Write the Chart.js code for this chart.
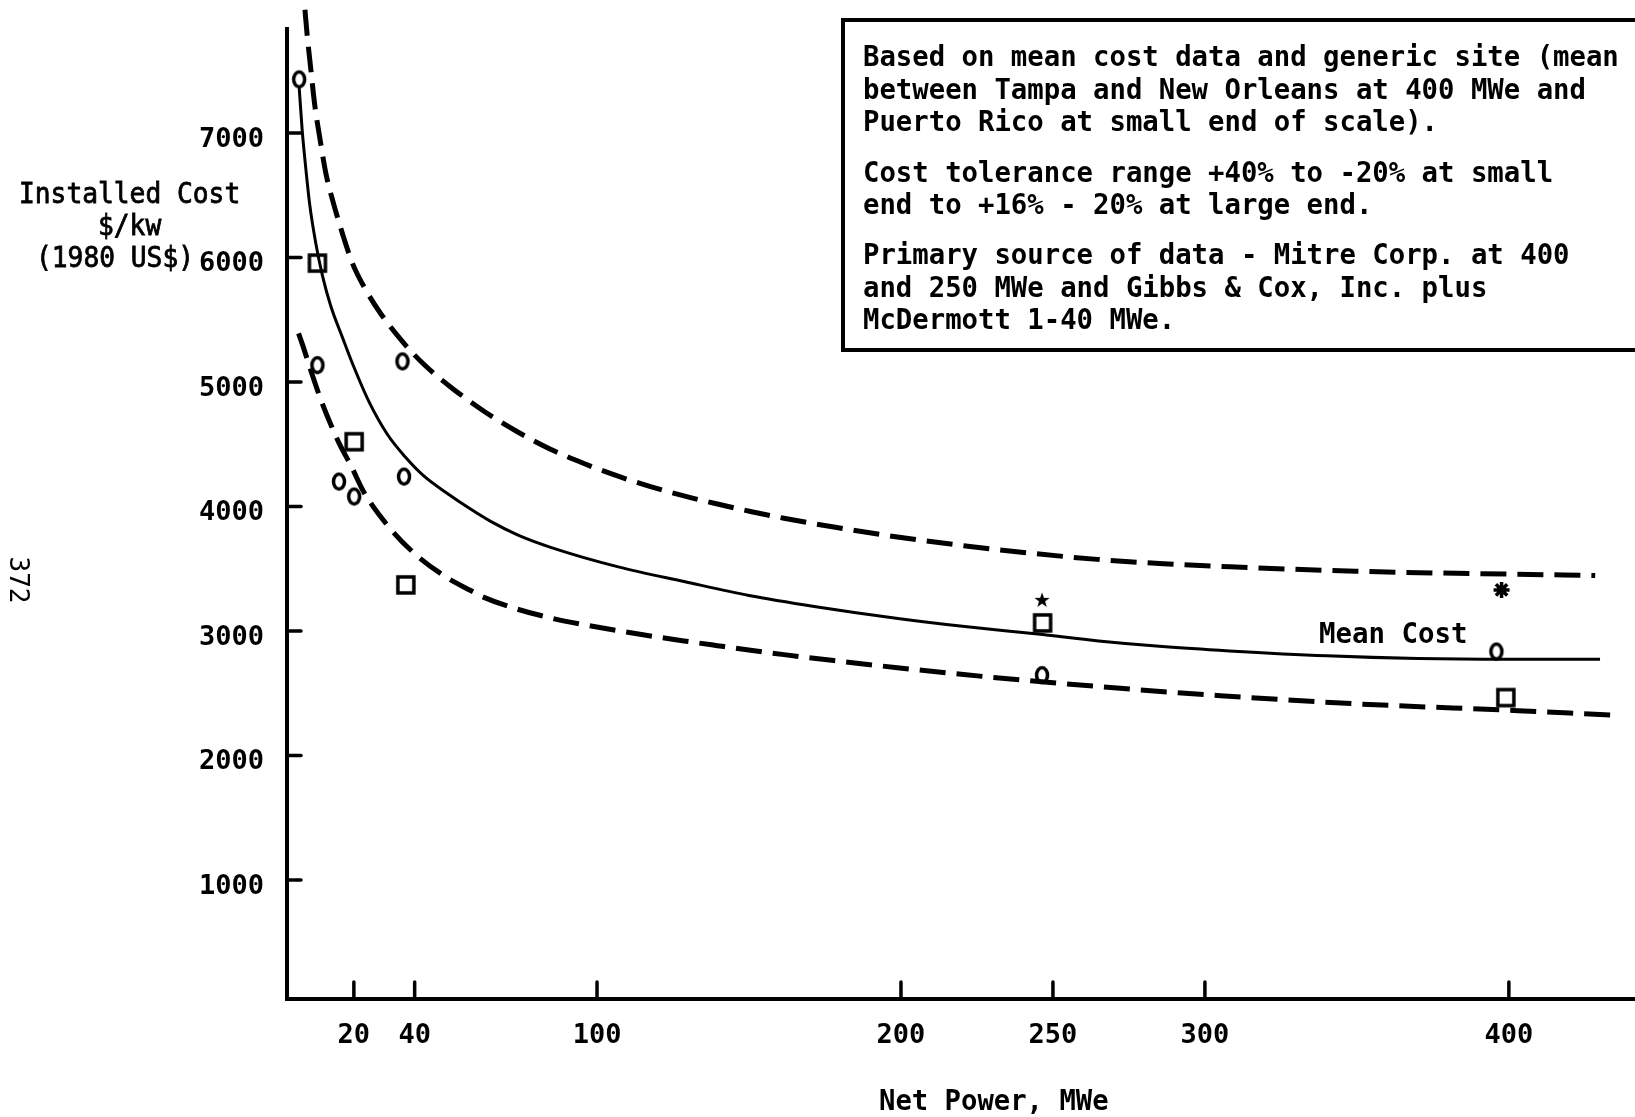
<!DOCTYPE html>
<html>
<head>
<meta charset="utf-8">
<script src="https://cdn.jsdelivr.net/npm/chart.js@4.4.1/dist/chart.umd.min.js"></script>
<style>
  html, body { margin: 0; padding: 0; background: #fff; }
  canvas { display: block; }
</style>
</head>
<body>
<canvas id="costChart" width="1635" height="1117"></canvas>
<script>
// Axis ticks
const xTicks = [20, 40, 100, 200, 250, 300, 400];
const yTicks = [1000, 2000, 3000, 4000, 5000, 6000, 7000];

// Mean cost curve (solid)
const meanX = [2, 3, 4, 5.5, 7.5, 9.7, 12.4, 16.2, 19.5, 25, 31, 37, 43, 51, 58, 65, 74, 85, 107, 129, 150, 172, 199, 221, 245, 265, 286, 308, 340, 370, 400, 430];
const meanY = [7370, 7020, 6760, 6420, 6110, 5850, 5610, 5360, 5150, 4840, 4580, 4395, 4245, 4100, 3985, 3880, 3770, 3670, 3515, 3395, 3285, 3195, 3100, 3035, 2975, 2920, 2875, 2840, 2800, 2778, 2772, 2772];

// Upper tolerance curve (dashed)
const upperX = [3.9, 4.7, 5.8, 7.1, 8.9, 10.8, 13, 16.2, 19.5, 23.9, 28.8, 36.5, 43.1, 51.8, 62.8, 73.8, 84.7, 95.7, 106.7, 117.6, 128.6, 139.6, 150.5, 161.5, 177.9, 198.8, 220.6, 242.6, 264.5, 286.4, 308.3, 349.6, 428.4];
const upperY = [7990, 7770, 7520, 7230, 6945, 6675, 6460, 6195, 5955, 5740, 5550, 5310, 5140, 4960, 4765, 4600, 4460, 4345, 4245, 4160, 4085, 4020, 3960, 3905, 3835, 3755, 3685, 3625, 3575, 3540, 3515, 3480, 3445];

// Lower tolerance curve (dashed)
const lowerX = [1.8, 3.1, 6, 9.1, 12.2, 15.5, 19, 23.3, 31, 39.8, 50.2, 58.4, 62.8, 73.8, 84.7, 95.7, 106.7, 117.6, 128.6, 139.6, 150.5, 161.5, 177.9, 198.8, 220.6, 242.6, 264.5, 286.4, 305.1, 349.6, 403, 433.6];
const lowerY = [5390, 5300, 5080, 4860, 4670, 4490, 4330, 4115, 3850, 3625, 3435, 3325, 3270, 3175, 3105, 3050, 3003, 2960, 2920, 2882, 2845, 2810, 2762, 2705, 2650, 2600, 2555, 2512, 2480, 2415, 2360, 2325];

// Data points
const circleX = [2, 36, 8, 15.1, 20.1, 36.5, 246.4, 395.9];
const circleY = [7430, 5165, 5135, 4200, 4080, 4240, 2645, 2835];
const squareX = [8, 20.1, 37.1, 246.6, 399];
const squareY = [5955, 4520, 3370, 3065, 2465];
const starX = [246.4, 397.6];
const starY = [3250, 3330];

// Text
const yTitleLines = ['Installed Cost', '$/kw', '(1980 US$)'];
const xTitle = 'Net Power, MWe';
const curveLabel = 'Mean Cost';
const noteLines = [
    'Based on mean cost data and generic site (mean',
    'between Tampa and New Orleans at 400 MWe and',
    'Puerto Rico at small end of scale).',
    'Cost tolerance range +40% to -20% at small',
    'end to +16% - 20% at large end.',
    'Primary source of data - Mitre Corp. at 400',
    'and 250 MWe and Gibbs & Cox, Inc. plus',
    'McDermott 1-40 MWe.'
];
const pageNumber = '372';

const MONO = '"DejaVu Sans Mono", "Liberation Mono", monospace';

function toPoints (xs, ys) { // zip x/y arrays
    return xs.map((x, i) => ({ x: x, y: ys[i] }));
}

// Marker Images
function ovalMarker () {
    const c = document.createElement('canvas');
    c.width = 20; c.height = 24;
    const g = c.getContext('2d');
    g.lineWidth = 3.5;
    g.strokeStyle = '#000';
    g.beginPath();
    g.ellipse(10, 12, 5.5, 7.5, 0, 0, 2 * Math.PI);
    g.stroke();
    return c;
}

function squareMarker () {
    const c = document.createElement('canvas');
    c.width = 22; c.height = 22;
    const g = c.getContext('2d');
    g.lineWidth = 3.5;
    g.strokeStyle = '#000';
    g.strokeRect(3, 3, 16, 16);
    return c;
}

function solidStarMarker () { // five-point filled star
    const c = document.createElement('canvas');
    c.width = 18; c.height = 18;
    const g = c.getContext('2d');
    g.fillStyle = '#000';
    g.beginPath();
    for (let i = 0; i < 10; i++) {
        const r = i % 2 ? 3.2 : 8;
        const a = -Math.PI / 2 + i * Math.PI / 5;
        g.lineTo(9 + r * Math.cos(a), 9.5 + r * Math.sin(a));
    }
    g.closePath();
    g.fill();
    return c;
}

// Mono text helper (squeezed to a fixed pitch)
function monoText (ctx, text, x, yMid, size, weight, pitch, stroke) {
    ctx.save();
    ctx.font = `${weight} ${size}px ${MONO}`;
    const sx = pitch / ctx.measureText('M').width;
    ctx.fillStyle = '#000';
    ctx.strokeStyle = '#000';
    ctx.textBaseline = 'alphabetic';
    ctx.textAlign = 'left';
    ctx.translate(x, yMid + 0.729 * size / 2);
    ctx.scale(sx, 1);
    ctx.fillText(text, 0, 0);
    if (stroke) {
        ctx.lineWidth = stroke;
        ctx.strokeText(text, 0, 0);
    }
    ctx.restore();
}

// Drop the label padding Chart.js reserves around the axes
function fixAxis (s, size) {
    if (s.isHorizontal()) s.height = size; else s.width = size;
    s.paddingTop = 0;
    s.paddingBottom = 0;
    s.paddingLeft = 0;
    s.paddingRight = 0;
}

// Inward ticks + annotations
const decorPlugin = {
    id: 'decor',
    afterDraw (chart) {
        const ctx = chart.ctx;
        const xs = chart.scales.x;
        const ys = chart.scales.y;
        const area = chart.chartArea;

        ctx.save();
        ctx.strokeStyle = '#000';
        ctx.lineWidth = 3.5;
        ctx.lineCap = 'round';
        xTicks.forEach(v => {
            const px = xs.getPixelForValue(v);
            ctx.beginPath();
            ctx.moveTo(px, area.bottom);
            ctx.lineTo(px, area.bottom - 17);
            ctx.stroke();
        });
        yTicks.forEach(v => {
            const py = ys.getPixelForValue(v);
            ctx.beginPath();
            ctx.moveTo(area.left, py);
            ctx.lineTo(area.left + 14, py);
            ctx.stroke();
        });
        ctx.restore();

        // Y Title
        monoText(ctx, yTitleLines[0], 19, 193, 28, 'normal', 15.8, 0.8);
        monoText(ctx, yTitleLines[1], 98, 225, 28, 'normal', 15.8, 0.8);
        monoText(ctx, yTitleLines[2], 36, 257, 28, 'normal', 15.8, 0.8);

        // X Title
        monoText(ctx, xTitle, 879, 1100, 28, 'bold', 16.4);

        // Curve Label
        monoText(ctx, curveLabel, 1319, 633, 28, 'bold', 16.5);

        // Note Box
        ctx.save();
        ctx.strokeStyle = '#000';
        ctx.lineWidth = 4;
        ctx.strokeRect(843, 20, 900, 330);
        ctx.restore();
        const noteY = [55.5, 88, 120.5, 171.3, 203, 253.8, 286.4, 318.4];
        noteLines.forEach((line, i) => {
            monoText(ctx, line, 863, noteY[i], 29, 'bold', 16.43);
        });

        // Page Number
        ctx.save();
        ctx.font = `normal 26px ${MONO}`;
        ctx.fillStyle = '#000';
        ctx.translate(17, 580);
        ctx.rotate(Math.PI / 2);
        ctx.textAlign = 'center';
        ctx.textBaseline = 'middle';
        ctx.fillText(pageNumber, 0, 0);
        ctx.restore();
    }
};

// Chart Setup
const lineStyle = {
    showLine: true,
    pointRadius: 0,
    borderColor: '#000',
    fill: false,
    cubicInterpolationMode: 'monotone'
};

const ctx = document.getElementById('costChart').getContext('2d');
const costChart = new Chart(ctx, {
    type: 'scatter',
    data: {
        datasets: [
            { ...lineStyle, label: 'Mean Cost', data: toPoints(meanX, meanY), borderWidth: 3 },
            { ...lineStyle, label: 'Upper', data: toPoints(upperX, upperY), borderWidth: 5, borderDash: [26, 11], clip: false },
            { ...lineStyle, label: 'Lower', data: toPoints(lowerX, lowerY), borderWidth: 5, borderDash: [26, 11] },
            { label: 'Circles', data: toPoints(circleX, circleY), pointStyle: ovalMarker(), pointRadius: 6 },
            { label: 'Squares', data: toPoints(squareX, squareY), pointStyle: squareMarker(), pointRadius: 6 },
            { label: 'Stars', data: toPoints(starX, starY), pointStyle: [solidStarMarker(), 'star'], pointRadius: 8, borderWidth: 3.5, borderColor: '#000' }
        ]
    },
    options: {
        responsive: false,
        animation: false,
        devicePixelRatio: 1,
        layout: { autoPadding: false, padding: { top: 29, right: 0, bottom: 0, left: 0 } },
        plugins: {
            legend: { display: false },
            tooltip: { enabled: false }
        },
        scales: {
            x: {
                type: 'linear',
                min: -2,
                max: 441.5,
                afterBuildTicks: s => { s.ticks = xTicks.map(v => ({ value: v })); },
                afterFit: s => fixAxis(s, 118),
                grid: { display: false, drawTicks: false },
                border: { display: true, color: '#000', width: 4 },
                ticks: {
                    color: '#000',
                    padding: 21,
                    autoSkip: false,
                    maxRotation: 0,
                    callback: v => String(v),
                    font: { family: MONO, size: 27, weight: 'bold' }
                }
            },
            y: {
                type: 'linear',
                min: 44,
                max: 7835,
                afterBuildTicks: s => { s.ticks = yTicks.map(v => ({ value: v })); },
                afterFit: s => fixAxis(s, 287),
                grid: { display: false, drawTicks: false },
                border: { display: true, color: '#000', width: 4 },
                ticks: {
                    color: '#000',
                    padding: 23,
                    labelOffset: 7,
                    callback: v => String(v),
                    font: { family: MONO, size: 27, weight: 'bold' }
                }
            }
        }
    },
    plugins: [decorPlugin]
});
</script>
</body>
</html>
